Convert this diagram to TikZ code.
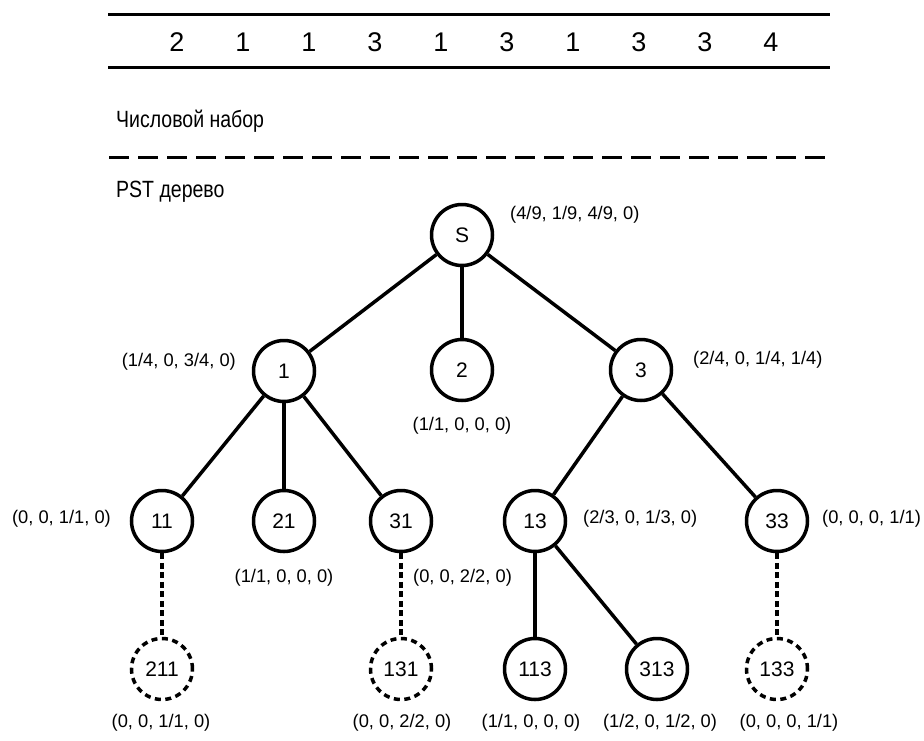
\documentclass[tikz,border=0pt]{standalone}
\usepackage{fontspec}
\setmainfont{Liberation Sans}
\newfontfamily\headfont[FakeStretch=0.83]{Liberation Sans}
\begin{document}
\begin{tikzpicture}[x=1pt,y=-1pt,
  tnode/.style={circle, draw, line width=3.5pt, minimum size=61pt, inner sep=0pt,
                font=\fontsize{21}{24}\selectfont},
  ghost/.style={tnode, dash pattern=on 6pt off 4.5pt},
  link/.style={line width=3.5pt},
  weak/.style={line width=3.5pt, dash pattern=on 6pt off 3.5pt},
  lab/.style={font=\fontsize{18.3}{21}\selectfont, inner sep=0pt},
  seq/.style={font=\fontsize{27}{30}\selectfont, inner sep=0pt},
  head/.style={font=\headfont\fontsize{23.5}{27}\selectfont, inner sep=0pt, anchor=west}]
\useasboundingbox (0,0) rectangle (924,740);

% sequence strip
\coordinate (t1) at (108,14);  \coordinate (t2) at (830,14);
\coordinate (b1) at (108,67);  \coordinate (b2) at (830,67);
\draw[line width=3pt] (t1) -- (t2);
\draw[line width=3pt] (b1) -- (b2);
\foreach \d [count=\i from 0] in {2,1,1,3,1,3,1,3,3,4}
  \node[seq] (d\i) at (177+66*\i,42) {\d};

% section headings and separator
\node[head] (h1) at (116,121) {Числовой набор};
\coordinate (s1) at (109,157); \coordinate (s2) at (830,157);
\draw[line width=3pt, dash pattern=on 20pt off 9pt] (s1) -- (s2);
\node[head] (h2) at (116,192) {PST дерево};

% tree nodes
\node[tnode] (S)   at (462,235) {S};
\node[tnode] (n1)  at (284,371) {1};
\node[tnode] (n2)  at (462,370) {2};
\node[tnode] (n3)  at (641,370) {3};
\node[tnode] (n11) at (162,521) {11};
\node[tnode] (n21) at (284,521) {21};
\node[tnode] (n31) at (401,521) {31};
\node[tnode] (n13) at (535,521) {13};
\node[tnode] (n33) at (777,521) {33};
\node[ghost] (n211) at (162,669) {211};
\node[ghost] (n131) at (401,669) {131};
\node[tnode] (n113) at (535,669) {113};
\node[tnode] (n313) at (657,669) {313};
\node[ghost] (n133) at (777,669) {133};

% edges
\draw[link] (S) -- (n1);
\draw[link] (S) -- (n2);
\draw[link] (S) -- (n3);
\draw[link] (n1) -- (n11);
\draw[link] (n1) -- (n21);
\draw[link] (n1) -- (n31);
\draw[link] (n3) -- (n13);
\draw[link] (n3) -- (n33);
\draw[link] (n13) -- (n113);
\draw[link] (n13) -- (n313);
\draw[weak] (n11) -- (n211);
\draw[weak] (n31) -- (n131);
\draw[weak] (n33) -- (n133);

% probability vectors
\node[lab, anchor=west] (lS)   at (510,215) {(4/9, 1/9, 4/9, 0)};
\node[lab, anchor=east] (l1)   at (236,362) {(1/4, 0, 3/4, 0)};
\node[lab]              (l2)   at (462,426) {(1/1, 0, 0, 0)};
\node[lab, anchor=west] (l3)   at (693,360) {(2/4, 0, 1/4, 1/4)};
\node[lab, anchor=east] (l11)  at (111,519) {(0, 0, 1/1, 0)};
\node[lab]              (l21)  at (284,578) {(1/1, 0, 0, 0)};
\node[lab, anchor=west] (l31)  at (413,578) {(0, 0, 2/2, 0)};
\node[lab, anchor=west] (l13)  at (583,519) {(2/3, 0, 1/3, 0)};
\node[lab, anchor=west] (l33)  at (822,519) {(0, 0, 0, 1/1)};
\node[lab]              (l211) at (161,723) {(0, 0, 1/1, 0)};
\node[lab]              (l131) at (402,723) {(0, 0, 2/2, 0)};
\node[lab]              (l113) at (531,723) {(1/1, 0, 0, 0)};
\node[lab]              (l313) at (660,723) {(1/2, 0, 1/2, 0)};
\node[lab]              (l133) at (789,723) {(0, 0, 0, 1/1)};
\end{tikzpicture}
\end{document}
